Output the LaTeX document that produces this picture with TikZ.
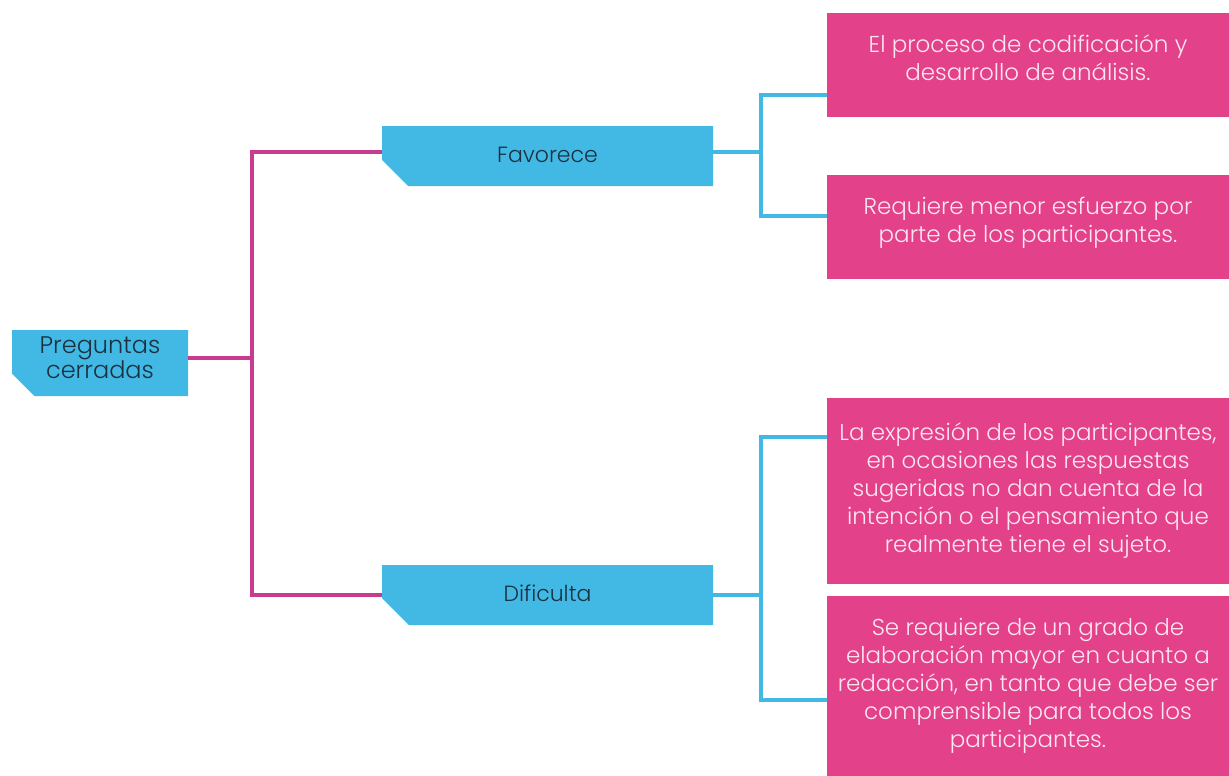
\documentclass[tikz,border=0pt]{standalone}
\usepackage{fontspec}
\setmainfont{Poppins}[UprightFont=* Light]
\usetikzlibrary{positioning, shapes.misc}

\definecolor{tagblue}{HTML}{42B9E5}
\definecolor{tagtext}{HTML}{1B3140}
\definecolor{leafpink}{HTML}{E3418A}
\definecolor{leaftext}{HTML}{FCE6F0}
\definecolor{trunk}{HTML}{C83B8E}

\begin{document}
\begin{tikzpicture}[
    x=1pt, y=-1pt,
    tag/.style={chamfered rectangle, chamfered rectangle corners=south west,
        chamfered rectangle xsep=28pt, chamfered rectangle ysep=17pt,
        fill=tagblue, text=tagtext, inner sep=0pt},
    leaf/.style={rectangle, fill=leafpink, text=leaftext, inner sep=0pt,
        minimum width=402pt, align=center, font=\fontsize{23}{28}\selectfont},
    trunkline/.style={draw=trunk, line width=4pt},
    branchline/.style={draw=tagblue, line width=4pt}
]
\useasboundingbox (0,0) rectangle (1229,776);

% -------------------------
% ROOT AND BRANCHES
% -------------------------
\node[tag, minimum width=176pt, minimum height=66pt,
      chamfered rectangle xsep=15pt, chamfered rectangle ysep=18pt,
      font=\fontsize{24}{24}\selectfont] (Preguntas) at (100,363)
    {\raisebox{-9pt}{\smash{\begin{tabular}{@{}c@{}}Preguntas\\cerradas\end{tabular}}}};

\node[tag, minimum width=331pt, minimum height=60pt,
      font=\fontsize{22}{26}\selectfont] (Favorece) at (547.5,156)
    {\raisebox{3pt}{Favorece}};

\node[tag, minimum width=331pt, minimum height=60pt,
      font=\fontsize{22}{26}\selectfont] (Dificulta) at (547.5,595)
    {\raisebox{3pt}{Dificulta}};

% -------------------------
% LEAVES
% -------------------------
\node[leaf, minimum height=104pt] (Codif) at (1028,65)
    {El proceso de codificación y\\desarrollo de análisis.\\[-14pt]};
\node[leaf, minimum height=104pt] (Esfuerzo) at (1028,227)
    {Requiere menor esfuerzo por\\parte de los participantes.\\[-14pt]};
\node[leaf, minimum height=186pt] (Expresion) at (1028,491)
    {La expresión de los participantes,\\en ocasiones las respuestas\\sugeridas no dan cuenta de la\\intención o el pensamiento que\\realmente tiene el sujeto.};
\node[leaf, minimum height=180pt] (Redaccion) at (1028,686)
    {Se requiere de un grado de\\elaboración mayor en cuanto a\\redacción, en tanto que debe ser\\comprensible para todos los\\participantes.};

% -------------------------
% CONNECTORS
% -------------------------
\coordinate (jroot) at (252,358);
\coordinate (jfav) at (761,152);
\coordinate (jdif) at (761,595);

% root to branches
\draw[trunkline] (Preguntas.east |- jroot) -- (jroot);
\draw[trunkline] (jroot) |- ([yshift=4pt]Favorece.west);
\draw[trunkline] (jroot) |- ([yshift=0pt]Dificulta.west);

% Favorece leaves
\draw[branchline] ([yshift=4pt]Favorece.east) -- (jfav);
\draw[branchline] (jfav) |- ([yshift=-30pt]Codif.west);
\draw[branchline] (jfav) |- ([yshift=11pt]Esfuerzo.west);

% Dificulta leaves
\draw[branchline] (Dificulta.east) -- (jdif);
\draw[branchline] (jdif) |- ([yshift=54pt]Expresion.west);
\draw[branchline] (jdif) |- ([yshift=-14pt]Redaccion.west);

\end{tikzpicture}
\end{document}
